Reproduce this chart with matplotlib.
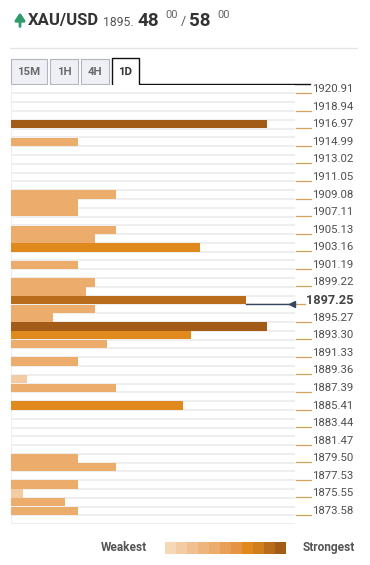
import numpy as np
import matplotlib
matplotlib.use("Agg")
import matplotlib.pyplot as plt
from matplotlib.colors import ListedColormap
from matplotlib.patches import Rectangle

plt.rcParams['font.family'] = ['Roboto', 'DejaVu Sans']

# price ladder (labelled levels)
tick_levels = [1920.91, 1918.94, 1916.97, 1914.99, 1913.02, 1911.05, 1909.08,
               1907.11, 1905.13, 1903.16, 1901.19, 1899.22, 1897.25, 1895.27,
               1893.30, 1891.33, 1889.36, 1887.39, 1885.41, 1883.44, 1881.47,
               1879.50, 1877.53, 1875.55, 1873.58]
current_price = 1897.25

# confluence bars: level price and strength
bar_levels = [1916.97, 1914.99, 1909.08, 1908.09, 1907.11, 1905.13, 1904.14,
              1903.16, 1901.19, 1899.22, 1898.23, 1897.25, 1896.26, 1895.27,
              1894.29, 1893.30, 1892.31, 1890.34, 1888.37, 1887.39, 1885.41,
              1879.50, 1878.51, 1876.54, 1875.55, 1874.57, 1873.58]
bar_strength = [24.4, 6.4, 10.0, 6.4, 6.4, 10.0, 8.0,
                18.0, 6.4, 8.0, 7.1, 22.4, 8.0, 4.0,
                24.4, 17.1, 9.1, 6.4, 1.5, 10.0, 16.4,
                6.4, 10.0, 6.4, 1.1, 5.1, 6.4]

palette = ['#F6D8B9', '#F3CCA4', '#F0C090', '#EDB47B', '#EBAC6C', '#E89F58',
           '#E59444', '#E08A1E', '#D17E1C', '#B96C1C', '#A35C17']


def strength_color(s):
    if s < 3:
        return palette[1]
    if s < 12:
        return palette[4]
    if s < 20:
        return palette[7]
    if s < 23:
        return palette[9]
    return palette[10]


W, H = 370, 565
fig = plt.figure(figsize=(W / 100, H / 100), dpi=100)

# overlay in pixel coordinates for header / tabs / legend
ov = fig.add_axes([0, 0, 1, 1])
ov.set_xlim(0, W)
ov.set_ylim(H, 0)
ov.axis('off')

step = (tick_levels[0] - tick_levels[-1]) / 48
top_px, bot_px = 84.7, 524.2
ax = fig.add_axes([11 / W, 1 - bot_px / H, 284 / W, (bot_px - top_px) / H])
ax.set_ylim(tick_levels[-1] - 1.5 * step, tick_levels[0] + 0.5 * step)
xmax = 284 / 10.5
ax.set_xlim(0, xmax)
for s in ax.spines.values():
    s.set_visible(False)
ax.set_xticks([])
ax.set_yticks([])

# row grid
bounds = tick_levels[0] + 0.5 * step - step * np.arange(51)
for b in bounds[1:]:
    ax.axhline(b, color='#EBEBEB', lw=1.2, zorder=0)
ax.axvline(0, color='#F0F0F0', lw=1, zorder=0)

ax.barh(bar_levels, bar_strength, height=step * 0.97, left=0,
        color=[strength_color(s) for s in bar_strength], zorder=2)

# price labels on the right
ytr = ax.get_yaxis_transform()
for lv in tick_levels:
    if lv == current_price:
        continue
    ax.plot([1.003, 1.056], [lv - 0.45 * step] * 2, transform=ytr,
            color='#D2A35A', lw=0.9, clip_on=False)
    ax.text(1.06, lv, f"{lv:.2f}", transform=ytr, ha='left', va='center',
            fontsize=8.2, color='#4F4F4F')

# current price marker
cur_s = bar_strength[bar_levels.index(current_price)]
cy = current_price - 0.45 * step
ax.plot([cur_s, xmax - 0.3], [cy, cy], color='#34495E', lw=1, zorder=3,
        clip_on=False)
ax.plot([xmax - 0.3], [cy], marker='<', ms=5, color='#34495E', zorder=4,
        clip_on=False)
ax.plot([1.0, 1.035], [cy, cy], transform=ytr, color='#D2A35A', lw=0.9,
        clip_on=False)
ax.text(1.037, current_price, f"{current_price:.2f}", transform=ytr,
        ha='left', va='center', fontsize=9.2, fontweight='bold',
        color='#444444')

# header
ov.annotate('', xy=(20, 12.5), xytext=(20, 26.5),
            arrowprops=dict(arrowstyle='-|>,head_width=0.3,head_length=0.45',
                            lw=2, color='#2E9C6A', shrinkA=0, shrinkB=0))
ov.text(28, 25.5, "XAU/USD", fontsize=12, fontweight='bold', color='#333333')
ov.text(103, 25.5, "1895.", fontsize=8.8, color='#555555')
ov.text(137.5, 25.8, "48", fontsize=13.5, fontweight='bold', color='#333333')
ov.text(165, 18.5, "00", fontsize=8, color='#666666')
ov.text(181, 25.5, "/", fontsize=9, color='#555555')
ov.text(189.5, 25.8, "58", fontsize=13.5, fontweight='bold', color='#333333')
ov.text(217, 18.5, "00", fontsize=8, color='#666666')
ov.plot([10, 357], [48, 48], color='#E6E6E6', lw=1)

# timeframe tabs
tabs = ["15M", "1H", "4H"]
tab_x = [(11, 47), (50, 78), (81, 109)]
for lab, (x0, x1) in zip(tabs, tab_x):
    ov.add_patch(Rectangle((x0, 59), x1 - x0, 25, facecolor='#EEF0F6',
                           edgecolor='#B5B5BD', lw=0.8))
    ov.text((x0 + x1) / 2, 72, lab, ha='center', va='center', fontsize=8.2,
            fontweight='bold', color='#6A6A6A')
ov.plot([112, 112, 139, 139, 310], [84, 58, 58, 84, 84], color='#111111',
        lw=1)
ov.text(125.5, 72, "1D", ha='center', va='center', fontsize=8.2,
        fontweight='bold', color='#333333')

# legend
ov.text(147, 547.5, "Weakest", ha='right', va='center', fontsize=8.6,
        fontweight='bold', color='#555555')
ov.text(303, 547.5, "Strongest", ha='left', va='center', fontsize=8.6,
        fontweight='bold', color='#555555')
lax = fig.add_axes([165 / W, 1 - 554 / H, 121 / W, 12 / H])
lax.imshow(np.arange(len(palette))[None, :], cmap=ListedColormap(palette),
           aspect='auto')
lax.axis('off')

fig.savefig("out.png", dpi=100)
